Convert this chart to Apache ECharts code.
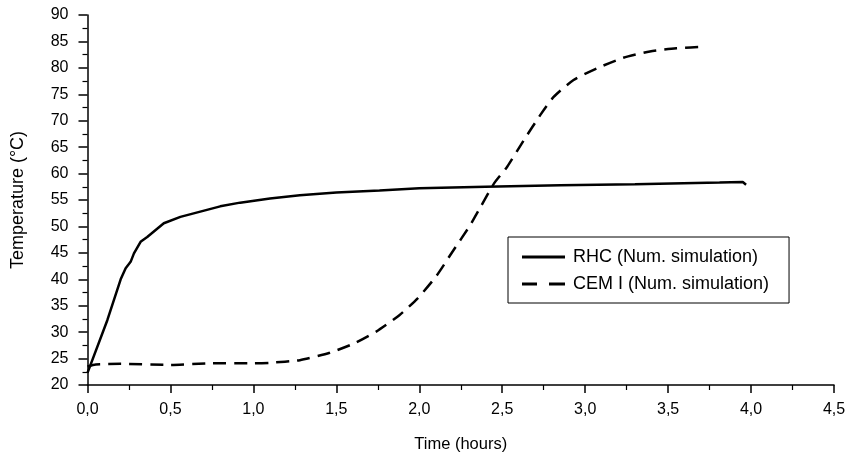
<!DOCTYPE html>
<html>
<head>
<meta charset="utf-8">
<script src="https://cdn.jsdelivr.net/npm/echarts@6/dist/echarts.min.js"></script>
<style>html,body{margin:0;padding:0;background:#fff}#c{width:848px;height:458px}</style>
</head>
<body>
<div id="c"></div>
<script>
const rhcTime = [0, 0.12, 0.2, 0.23, 0.26, 0.28, 0.32, 0.36, 0.46, 0.56, 0.68, 0.8, 0.92, 1.1, 1.28, 1.5, 1.76, 2.0, 2.4, 2.85, 3.3, 3.81, 3.95, 3.97];
const rhcTemp = [22.3, 32.3, 40, 42.1, 43.3, 44.9, 47.1, 48.0, 50.6, 51.8, 52.8, 53.8, 54.5, 55.3, 55.9, 56.4, 56.8, 57.2, 57.5, 57.8, 58.0, 58.3, 58.4, 57.9];
const cemTime = [0, 0.05, 0.2, 0.5, 0.75, 1.0, 1.1, 1.28, 1.46, 1.61, 1.74, 1.88, 1.99, 2.10, 2.20, 2.30, 2.37, 2.45, 2.53, 2.63, 2.73, 2.81, 2.93, 3.07, 3.23, 3.39, 3.55, 3.73];
const cemTemp = [23.5, 23.9, 24.0, 23.8, 24.1, 24.1, 24.2, 24.7, 26.1, 27.9, 30.1, 33.2, 36.4, 40.5, 45.2, 49.9, 53.7, 58.1, 61.3, 66.3, 71.1, 74.5, 77.7, 79.9, 81.9, 83.1, 83.7, 84.0];
const seriesNames = ['RHC (Num. simulation)', 'CEM I (Num. simulation)'];
const xTitle = 'Time (hours)';
const yTitle = 'Temperature (°C)';

const zip = (a, b) => a.map((v, i) => [v, b[i]]);
const font = 'Liberation Sans, Arial, sans-serif';
const chart = echarts.init(document.getElementById('c'), null, {renderer: 'canvas'});
chart.setOption({
  animation: false,
  backgroundColor: '#fff',
  grid: {left: 87.5, right: 14, top: 15, bottom: 73, containLabel: false, outerBoundsMode: 'none'},
  legend: {
    orient: 'vertical',
    left: 508, top: 237,
    padding: [11, 20, 10, 14],
    itemWidth: 43, itemHeight: 3, itemGap: 9,
    borderColor: '#000', borderWidth: 1,
    textStyle: {fontFamily: font, fontSize: 18, color: '#000', padding: [0, 0, 0, 3]},
    data: [
      {name: seriesNames[0], icon: 'path://M0,0H43V3H0Z'},
      {name: seriesNames[1], icon: 'path://M0,0H15V3H0Z M27,0H43V3H27Z'}
    ]
  },
  xAxis: {
    type: 'value', min: 0, max: 4.5, interval: 0.5,
    name: xTitle, nameLocation: 'middle', nameGap: 51,
    nameTextStyle: {fontFamily: font, fontSize: 16.5, color: '#000'},
    axisLine: {show: true, onZero: false, lineStyle: {color: '#000', width: 1.5}},
    axisTick: {show: true, inside: false, length: 8, lineStyle: {color: '#000', width: 1.5}},
    minorTick: {show: true, splitNumber: 2, length: 5, lineStyle: {color: '#000', width: 1.2}},
    axisLabel: {fontFamily: font, fontSize: 16, color: '#000', margin: 17,
      formatter: v => v.toFixed(1).replace('.', ',')},
    splitLine: {show: false}
  },
  yAxis: {
    type: 'value', min: 20, max: 90, interval: 5,
    name: yTitle, nameLocation: 'middle', nameGap: 60, nameRotate: 90,
    nameTextStyle: {fontFamily: font, fontSize: 18, color: '#000'},
    axisLine: {show: true, onZero: false, lineStyle: {color: '#000', width: 1.5}},
    axisTick: {show: true, inside: false, length: 9, lineStyle: {color: '#000', width: 1.5}},
    minorTick: {show: true, splitNumber: 2, length: 5, lineStyle: {color: '#000', width: 1.2}},
    axisLabel: {fontFamily: font, fontSize: 16, color: '#000', margin: 19},
    splitLine: {show: false}
  },
  series: [
    {
      name: seriesNames[0], type: 'line', showSymbol: false, symbol: 'none',
      smooth: false,
      data: zip(rhcTime, rhcTemp),
      lineStyle: {color: '#000', width: 2.5, type: 'solid'},
      itemStyle: {color: '#000'}
    },
    {
      name: seriesNames[1], type: 'line', showSymbol: false, symbol: 'none',
      smooth: 0.2,
      data: zip(cemTime, cemTemp),
      lineStyle: {color: '#000', width: 2.5, type: [13, 8]},
      itemStyle: {color: '#000'}
    }
  ]
});
</script>
</body>
</html>
